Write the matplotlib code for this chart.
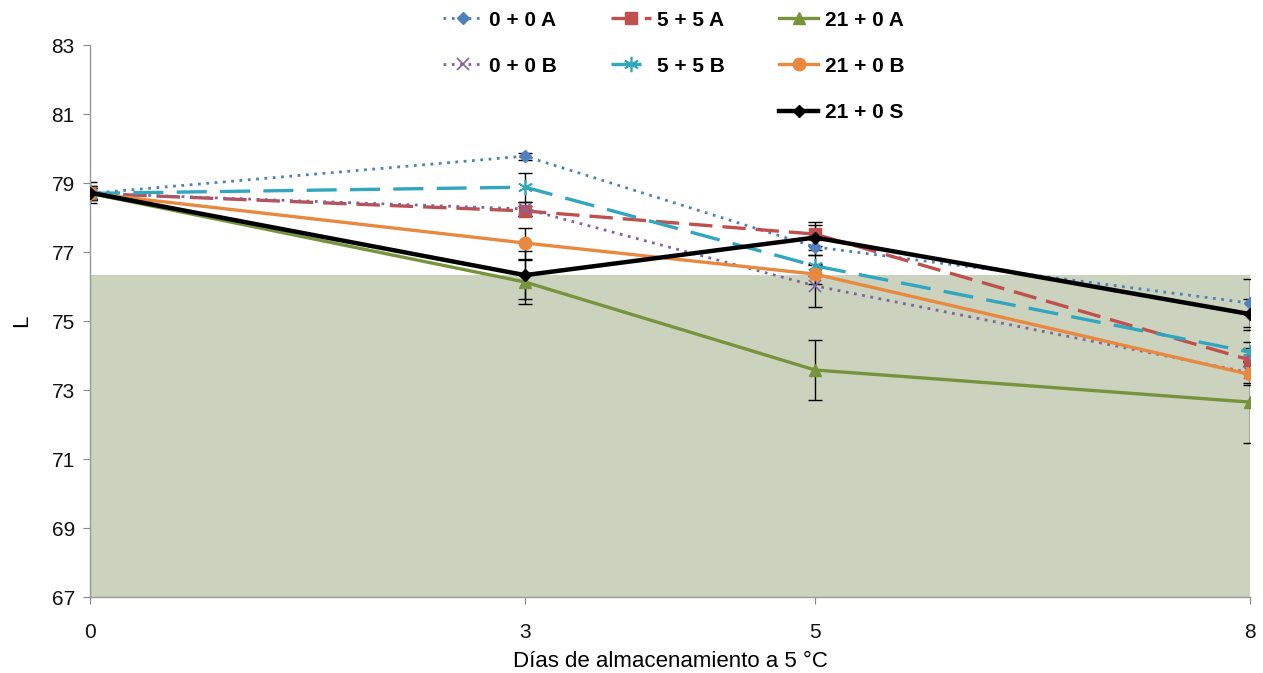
import matplotlib
matplotlib.use("Agg")
import matplotlib.pyplot as plt

plt.rcParams['font.family'] = ['Liberation Sans', 'DejaVu Sans']

days = [0, 3, 5, 8]
y_ticks = [67, 69, 71, 73, 75, 77, 79, 81, 83]
threshold = 76.33

labels = ["0 + 0 A", "5 + 5 A", "21 + 0 A", "0 + 0 B", "5 + 5 B", "21 + 0 B", "21 + 0 S"]

l_00A = [78.70, 79.78, 77.15, 75.52]
l_55A = [78.70, 78.19, 77.52, 73.87]
l_210A = [78.70, 76.13, 73.58, 72.65]
l_00B = [78.70, 78.25, 76.02, 73.50]
l_55B = [78.70, 78.88, 76.60, 74.10]
l_210B = [78.70, 77.26, 76.36, 73.45]
l_210S = [78.72, 76.33, 77.42, 75.20]

e_00A = [0.15, 0.10, 0.25, 0.70]
e_55A = [0.15, 0.15, 0.35, 0.35]
e_210A = [0.20, 0.65, 0.87, 1.20]
e_00B = [0.15, 0.20, 0.60, 0.35]
e_55B = [0.15, 0.42, 0.30, 0.30]
e_210B = [0.20, 0.45, 0.30, 0.25]
e_210S = [0.30, 0.70, 0.35, 0.45]

series = [
    (l_00A, e_00A, dict(color="#4F81BD", ls=(0, (1, 2)), marker="D", ms=6, lw=2.0)),
    (l_55A, e_55A, dict(color="#C0504D", ls=(0, (7, 3)), marker="s", ms=8, lw=2.4)),
    (l_210A, e_210A, dict(color="#77933C", ls="-", marker="^", ms=9, lw=2.4)),
    (l_00B, e_00B, dict(color="#8064A2", ls=(0, (1, 2)), marker="x", ms=8, lw=2.0, mew=1.2)),
    (l_55B, e_55B, dict(color="#31A6BF", ls=(0, (9, 4)), marker=(6, 2, 0), ms=11, lw=2.4, mew=1.2)),
    (l_210B, e_210B, dict(color="#E8893F", ls="-", marker="o", ms=9, lw=2.4)),
    (l_210S, e_210S, dict(color="black", ls="-", marker="D", ms=6, lw=3.2)),
]

fig = plt.figure(figsize=(12.63, 6.73), dpi=100)
ax = fig.add_axes([0.0713, 0.1129, 0.9184, 0.8202])

ax.fill_between([0, 8], 67, threshold, color="#CBD2BE", zorder=0, lw=0)

handles = []
for (vals, errs, style), lab in zip(series, labels):
    ax.errorbar(days, vals, yerr=errs, fmt="none", ecolor="black",
                elinewidth=1.0, capsize=5, capthick=1.0, zorder=2)
    h, = ax.plot(days, vals, label=lab, zorder=3, **style)
    handles.append(h)

ax.set_xlim(0, 8)
ax.set_ylim(67, 83)
ax.set_xticks(days)
ax.set_yticks(y_ticks)
ax.tick_params(axis="both", labelsize=15, colors="#111111", length=5,
               color="#888888", direction="out")
ax.tick_params(axis="x", pad=14)
ax.tick_params(axis="y", pad=6)
for s in ["top", "right"]:
    ax.spines[s].set_visible(False)
for s in ["left", "bottom"]:
    ax.spines[s].set_color("#999999")
    ax.spines[s].set_linewidth(1.0)

ax.set_xlabel("Días de almacenamiento a 5 °C", fontsize=16, labelpad=6)
ax.set_ylabel("L", fontsize=16, labelpad=14)

blank = plt.Line2D([], [], color="none")
order = [handles[0], handles[3], blank, handles[1], handles[4], blank,
         handles[2], handles[5], handles[6]]
order_labels = [labels[0], labels[3], "", labels[1], labels[4], "",
                labels[2], labels[5], labels[6]]
leg = fig.legend(order, order_labels, ncol=3, loc="upper left",
                 bbox_to_anchor=(0.336, 1.012), frameon=False,
                 prop=dict(size=15, weight="bold"), handlelength=1.9,
                 columnspacing=2.6, labelspacing=1.3, handletextpad=0.3)

fig.savefig("out.png", dpi=100)
